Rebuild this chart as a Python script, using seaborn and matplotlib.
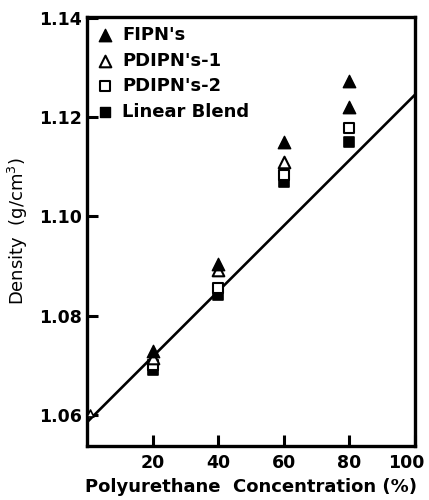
import matplotlib
matplotlib.use("Agg")
import matplotlib.pyplot as plt
import matplotlib.transforms as mtransforms
import seaborn as sns
import numpy as np
import pandas as pd

# data
fipn_x = [20, 40, 60, 80, 80]
fipn_y = [1.0729, 1.0903, 1.1149, 1.1273, 1.1220]
pd1_x = [20, 40, 60]
pd1_y = [1.0715, 1.0891, 1.1109]
pure_x = [0.8]
pure_y = [1.0604]
pd2_x = [20, 40, 60, 80]
pd2_y = [1.0701, 1.0855, 1.1083, 1.1178]
blend_x = [20, 40, 60, 80]
blend_y = [1.0690, 1.0841, 1.1069, 1.1150]
line_x = [0, 100]
line_y = [1.0585, 1.1245]

x_ticks = [20, 40, 60, 80, 100]
y_ticks = [1.06, 1.08, 1.10, 1.12, 1.14]

sns.set_style("ticks")
plt.rcParams['font.family'] = ['DejaVu Sans']
plt.rcParams.update({'text.color': 'black', 'axes.labelcolor': 'black',
                     'xtick.color': 'black', 'ytick.color': 'black',
                     'axes.edgecolor': 'black'})

fig = plt.figure(figsize=(4.29, 5.0), dpi=100)
ax = fig.add_axes([0.203, 0.108, 0.764, 0.858])

sns.lineplot(x=line_x, y=line_y, color='black', linewidth=1.9, ax=ax)

# draw bottom series first so the upper ones sit on top
sns.scatterplot(x=blend_x, y=blend_y, marker='s', s=60, color='black',
                edgecolor='black', linewidth=1.2, ax=ax, zorder=3)
sns.scatterplot(x=pd2_x, y=pd2_y, marker='s', s=55, facecolor='white',
                edgecolor='black', linewidth=1.5, ax=ax, zorder=4)
sns.scatterplot(x=pd1_x, y=pd1_y, marker='^', s=70, facecolor='white',
                edgecolor='black', linewidth=1.5, ax=ax, zorder=5)
sns.scatterplot(x=pure_x, y=pure_y, marker='^', s=25, facecolor='white',
                edgecolor='black', linewidth=1.2, ax=ax, zorder=5)
sns.scatterplot(x=fipn_x, y=fipn_y, marker='^', s=80, color='black',
                edgecolor='black', linewidth=1.0, ax=ax, zorder=6)

h1 = ax.scatter([], [], marker='^', s=80, color='black')
h2 = ax.scatter([], [], marker='^', s=70, facecolor='white', edgecolor='black', linewidth=1.5)
h3 = ax.scatter([], [], marker='s', s=55, facecolor='white', edgecolor='black', linewidth=1.5)
h4 = ax.scatter([], [], marker='s', s=60, color='black')
ax.legend([h1, h2, h3, h4], ["FIPN's", "PDIPN's-1", "PDIPN's-2", "Linear Blend"],
          loc='upper left', frameon=False, handletextpad=0.45, borderaxespad=0.2,
          labelspacing=0.42, handlelength=1.0, borderpad=0.3,
          prop={'weight': 'bold', 'size': 13})

ax.set_xlim(0, 100)
ax.set_ylim(1.0537, 1.1402)
ax.set_xticks(x_ticks)
ax.set_yticks(y_ticks)
ax.set_xticklabels([str(v) for v in x_ticks], fontsize=12.5, fontweight='bold')
ax.set_yticklabels([f'{v:.2f}' for v in y_ticks], fontsize=12.5, fontweight='bold')
ax.tick_params(direction='in', length=8, width=2.2, pad=6)
ax.tick_params(axis='y', pad=4)

# the "100" label sits a little left of the corner in the original
last = ax.get_xticklabels()[-1]
last.set_transform(last.get_transform() +
                   mtransforms.ScaledTranslation(-0.09, 0, fig.dpi_scale_trans))

for sp in ax.spines.values():
    sp.set_linewidth(2.4)
    sp.set_visible(True)

ax.set_xlabel('Polyurethane  Concentration (%)', fontsize=13, fontweight='bold', labelpad=4)
ax.set_ylabel('Density  (g/cm$^3$)', fontsize=13, labelpad=6)

fig.savefig('out.png', dpi=100)
